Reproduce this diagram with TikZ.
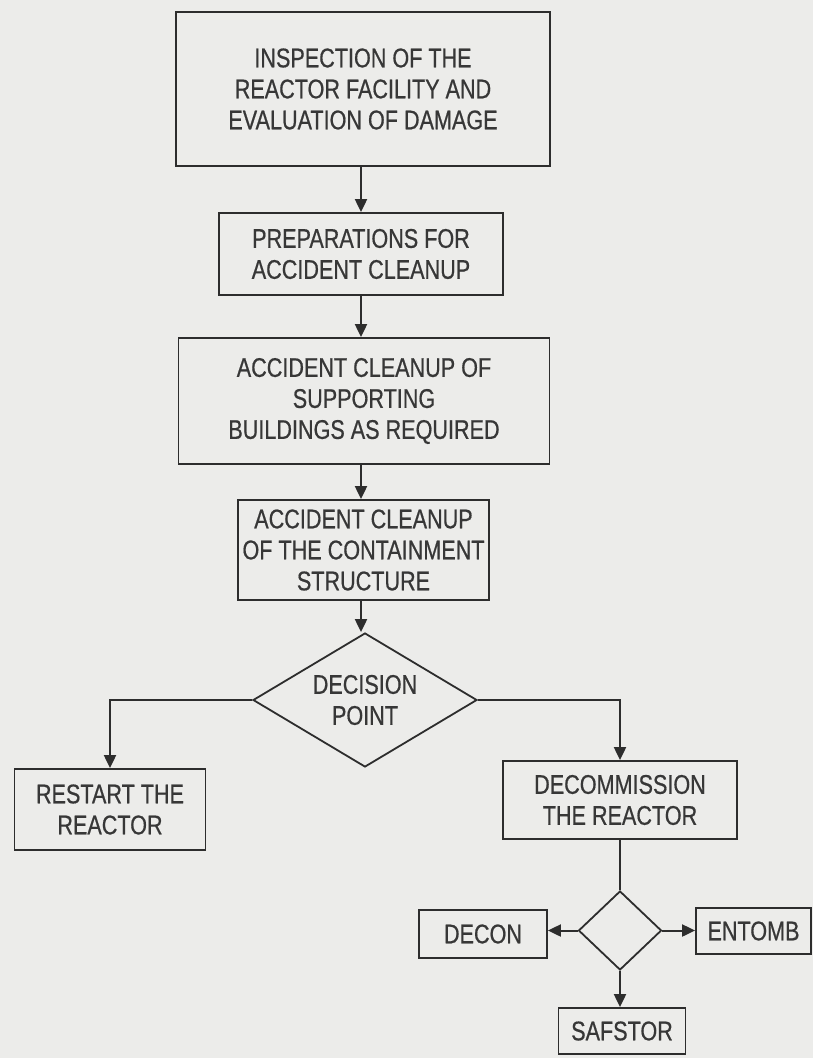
\documentclass[tikz,border=0pt]{standalone}
\usepackage{fontspec}
\newfontfamily\lettering[FakeStretch=0.8,FakeBold=0.6]{Liberation Sans}
\usetikzlibrary{arrows.meta,shapes.geometric}
\definecolor{paper}{RGB}{236,236,234}
\definecolor{ink}{RGB}{45,45,45}
\definecolor{letter}{RGB}{55,55,55}
\begin{document}
\begin{tikzpicture}[x=1pt,y=-1pt,
  box/.style={draw=ink, line width=1.8pt, inner sep=0pt, align=center,
    font=\lettering\fontsize{27}{31}\selectfont, text=letter},
  choice/.style={box, diamond, shape aspect=1.67},
  flow/.style={draw=ink, line width=2pt},
  arr/.style={flow, -{Triangle[length=13pt,width=12pt]}}]
  % page
  \fill[paper] (0,0) rectangle (813,1058);
  \useasboundingbox (0,0) rectangle (813,1058);

  % main column
  \node[box, minimum width=374pt, minimum height=154pt] (inspect) at (363,89)
    {INSPECTION OF THE\\REACTOR FACILITY AND\\EVALUATION OF DAMAGE};
  \node[box, minimum width=284pt, minimum height=82pt] (prep) at (361,254)
    {PREPARATIONS FOR\\ACCIDENT CLEANUP};
  \node[box, minimum width=371pt, minimum height=126pt] (support) at (364,401)
    {ACCIDENT CLEANUP OF\\SUPPORTING\\BUILDINGS AS REQUIRED};
  \node[box, minimum width=251pt, minimum height=100pt] (contain) at (363.5,550)
    {ACCIDENT CLEANUP\\OF THE CONTAINMENT\\STRUCTURE};
  \node[choice, minimum width=224pt, minimum height=134pt] (decide) at (365,700)
    {DECISION\\POINT};

  % outcomes
  \node[box, minimum width=191pt, minimum height=81pt] (restart) at (110,809.5)
    {RESTART THE\\REACTOR};
  \node[box, minimum width=234pt, minimum height=78pt] (decom) at (620,800)
    {DECOMMISSION\\THE REACTOR};
  \node[box, diamond, shape aspect=1.05, minimum width=83pt, minimum height=79pt] (mode) at (620,930.5) {};
  \node[box, minimum width=128pt, minimum height=48pt] (decon) at (483,934) {DECON};
  \node[box, minimum width=115pt, minimum height=46pt] (entomb) at (753.5,931) {ENTOMB};
  \node[box, minimum width=127pt, minimum height=46pt] (safstor) at (622,1031) {SAFSTOR};

  % connectors
  \draw[arr] (inspect.south -| prep.north) -- (prep.north);
  \draw[arr] (prep.south) -- (prep.south |- support.north);
  \draw[arr] (prep.south |- support.south) -- (prep.south |- contain.north);
  \draw[arr] (prep.south |- contain.south) -- (prep.south |- decide.north);
  \draw[arr] (decide.west) -| (restart.north);
  \draw[arr] (decide.east) -| (decom.north);
  \draw[flow] (decom.south) -- (mode.north);
  \draw[arr] (mode.west) -- (mode.west -| decon.east);
  \draw[arr] (mode.east) -- (mode.east -| entomb.west);
  \draw[arr] (mode.south) -- (mode.south |- safstor.north);
\end{tikzpicture}
\end{document}
